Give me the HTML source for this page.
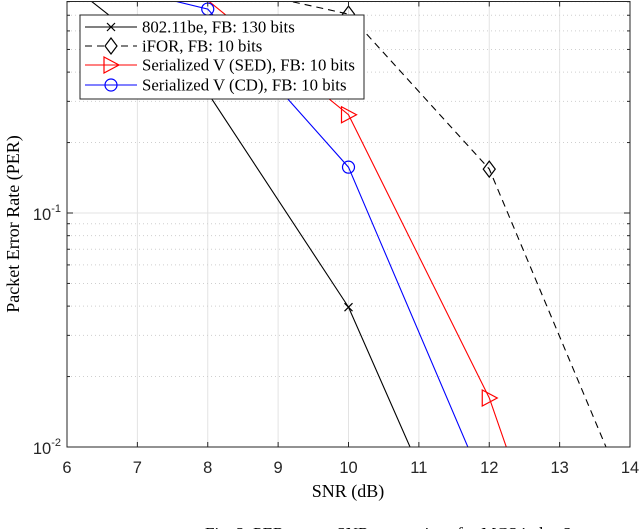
<!DOCTYPE html>
<html><head><meta charset="utf-8"><style>
html,body{margin:0;padding:0;background:#fff;width:640px;height:529px;overflow:hidden}
svg{display:block}
</style></head><body>
<svg id="chart" width="640" height="529" xmlns="http://www.w3.org/2000/svg">
<defs><clipPath id="capclip"><rect x="0" y="0" width="640" height="529"/></clipPath></defs>
<g id="grid"></g>
<g id="series"></g>
<rect x="67" y="1.5" width="563" height="445.5" fill="none" stroke="#262626" stroke-width="1"/>
<g id="ticks"></g>
<text x="348" y="497" text-anchor="middle" font-family="Liberation Serif, serif" font-size="18">SNR (dB)</text>
<text transform="translate(19,224) rotate(-90)" text-anchor="middle" font-family="Liberation Serif, serif" font-size="18">Packet Error Rate (PER)</text>
<g id="legend"></g>
<g clip-path="url(#capclip)"><text x="205" y="539" font-family="Liberation Serif, serif" font-size="17">Fig. 2.   PER versus SNR comparison for MCS index 3.</text></g>
</svg>
<script>
const snr = [6, 8, 10, 12, 14];
const perBe = [0.97, 0.326, 0.0396, 0.0017, 0.0002];
const perIfor = [1.0, 0.96, 0.708, 0.154, 0.0057];
const perSed = [1.2, 0.81, 0.263, 0.0162, 0.0003];
const perCd = [1.04, 0.744, 0.157, 0.0061, 0.0002];
const xTicks = [6, 7, 8, 9, 10, 11, 12, 13, 14];
const yMajor = [-1, -2];

const NS = 'http://www.w3.org/2000/svg';
const L = 67, R = 630, T = 1.5, B = 447;
const xs = v => L + (v - 6) / 8 * (R - L);
const ys = p => 213 - (Math.log10(p) + 1) * 234;
function mk(tag, attrs, parent) {
  const e = document.createElementNS(NS, tag);
  for (const k in attrs) e.setAttribute(k, attrs[k]);
  parent.appendChild(e); return e;
}
const grid = document.getElementById('grid');
const ticks = document.getElementById('ticks');
xTicks.forEach(t => {
  const x = xs(t);
  const g = mk('line', {x1: x, x2: x, y1: T, y2: B, stroke: '#e3e3e3', 'stroke-width': 1}, grid);
  
  
  mk('line', {x1: x, x2: x, y1: B, y2: B - 5, stroke: '#262626'}, ticks);
  mk('line', {x1: x, x2: x, y1: T, y2: T + 5, stroke: '#262626'}, ticks);
  const tl = mk('text', {x: x, y: 473, 'text-anchor': 'middle', 'font-family': 'Liberation Sans, sans-serif', 'font-size': 16.5, fill: '#262626'}, ticks);
  tl.textContent = t;
  
  
});
for (let d = -3; d <= 0; d++) {
  for (let m = 1; m <= 9; m++) {
    const p = m * Math.pow(10, d);
    const y = ys(p);
    if (y < T || y > B) continue;
    const major = m === 1;
    const g = mk('line', {x1: L, x2: R, y1: y, y2: y, stroke: major ? '#e3e3e3' : '#cfcfcf', 'stroke-width': 1, 'stroke-dasharray': major ? '' : '1,3'}, grid);
    
    
    const tk = major ? 6 : 3;
    mk('line', {x1: L, x2: L + tk, y1: y, y2: y, stroke: '#262626'}, ticks);
    mk('line', {x1: R, x2: R - tk, y1: y, y2: y, stroke: '#262626'}, ticks);
  }
}
yMajor.forEach(e => {
  const y = ys(Math.pow(10, e));
  const t = mk('text', {x: 61, y: y + 7, 'text-anchor': 'end', 'font-family': 'Liberation Sans, sans-serif', 'font-size': 16.5, fill: '#262626'}, ticks);
  t.textContent = '10';
  const s = mk('tspan', {dy: -8, 'font-size': 11}, t);
  s.textContent = String(e);
  
  
});
const series = document.getElementById('series');
const cp = mk('clipPath', {id: 'pc'}, series);
mk('rect', {x: L, y: T, width: R - L, height: B - T}, cp);
const sg = mk('g', {'clip-path': 'url(#pc)'}, series);
function marker(type, x, y, color, parent) {
  let e;
  if (type === 'x') e = mk('path', {d: `M${x-4},${y-4}L${x+4},${y+4}M${x-4},${y+4}L${x+4},${y-4}`, stroke: color, fill: 'none', 'stroke-width': 1.2}, parent);
  else if (type === 'd') e = mk('path', {d: `M${x},${y-8}L${x+6},${y}L${x},${y+8}L${x-6},${y}Z`, stroke: color, fill: 'none', 'stroke-width': 1.2}, parent);
  else if (type === 't') e = mk('path', {d: `M${x-7},${y-8}L${x+8},${y}L${x-7},${y+8}Z`, stroke: color, fill: 'none', 'stroke-width': 1.2}, parent);
  else e = mk('circle', {cx: x, cy: y, r: 6, stroke: color, fill: 'none', 'stroke-width': 1.2}, parent);
  return e;
}
const defs = [
  {name: 'series-802-11be', data: perBe, color: '#000', dash: '', m: 'x', mpts: [10]},
  {name: 'series-ifor', data: perIfor, color: '#000', dash: '7,5', m: 'd', mpts: [10, 12]},
  {name: 'series-serialized-sed', data: perSed, color: '#ff0000', dash: '', m: 't', mpts: [10, 12]},
  {name: 'series-serialized-cd', data: perCd, color: '#0000ff', dash: '', m: 'o', mpts: [8, 10]}
];
defs.forEach(s => {
  const g = mk('g', {}, sg);
  
  
  const pts = snr.map((v, i) => xs(v).toFixed(1) + ',' + ys(s.data[i]).toFixed(1)).join(' ');
  const pl = mk('polyline', {points: pts, fill: 'none', stroke: s.color, 'stroke-width': 1.1, 'stroke-dasharray': s.dash}, g);
  
  
  snr.forEach((v, i) => {
    if (s.mpts.indexOf(v) < 0) return;
    const mm = marker(s.m, xs(v), ys(s.data[i]), s.color, g);
    
    
  });
});
const lg = document.getElementById('legend');
mk('rect', {x: 80, y: 15, width: 284, height: 84, fill: '#fff', stroke: '#262626', 'stroke-width': 1}, lg);
const labels = ['802.11be, FB: 130 bits', 'iFOR, FB: 10 bits', 'Serialized V (SED), FB: 10 bits', 'Serialized V (CD), FB: 10 bits'];
const ly = [27, 46, 65, 85];
defs.forEach((s, i) => {
  const g = mk('g', {}, lg);
  
  
  mk('line', {x1: 85, x2: 137, y1: ly[i], y2: ly[i], stroke: s.color, 'stroke-width': 1.1, 'stroke-dasharray': s.dash}, g);
  const mm = marker(s.m, 111, ly[i], s.color, g);
  if (s.dash) mm.setAttribute('fill', '#fff');
  const t = mk('text', {x: 142, y: ly[i] + 5.5, 'font-family': 'Liberation Serif, serif', 'font-size': 16.8, fill: '#000'}, g);
  t.textContent = labels[i];
});
</script>
</body></html>
